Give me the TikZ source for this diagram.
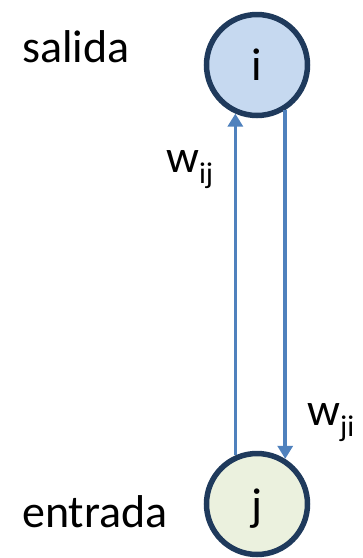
\documentclass[tikz,border=0pt]{standalone}
\usepackage{fontspec}
\setmainfont{Carlito}
\definecolor{ringblue}{HTML}{1F3A5C}
\definecolor{fillI}{HTML}{C6D9F0}
\definecolor{fillJ}{HTML}{EBF1DE}
\definecolor{arrowblue}{HTML}{4F81BD}
\newcommand{\bigtext}{\fontsize{46}{46}\selectfont}
\newcommand{\wsub}[1]{w\raisebox{-11pt}{\fontsize{30}{30}\selectfont #1}}
\tikzset{
  neuron/.style={circle, draw=ringblue, line width=5.5pt, minimum size=101pt, inner sep=0pt},
  label text/.style={font=\bigtext, inner sep=0pt, anchor=base west},
  link/.style={draw=arrowblue, line width=3.5pt, -{Triangle[length=13pt,width=15pt]}},
}
\usetikzlibrary{arrows.meta}
\begin{document}
\begin{tikzpicture}[x=1pt,y=-1pt]
  \useasboundingbox (0,0) rectangle (363,558);
  % the two units
  \node[neuron, fill=fillI] (i) at (257,65) {};
  \node[neuron, fill=fillJ] (j) at (257,504) {};
  \node[font=\bigtext, inner sep=0pt, anchor=base] (ti) at (257,80) {i};
  \node[font=\bigtext, inner sep=0pt, anchor=base] (tj) at (257,520) {j};
  % layer labels
  \node[label text] (out) at (22,62) {salida};
  \node[label text] (in) at (22,527) {entrada};
  % weighted connections
  \draw[link] (j.114) -- (i.-114);
  \draw[link] (i.-58) -- (j.58);
  \node[label text] (wij) at (166,172) {\wsub{ij}};
  \node[label text] (wji) at (307,425) {\wsub{ji}};
\end{tikzpicture}
\end{document}
